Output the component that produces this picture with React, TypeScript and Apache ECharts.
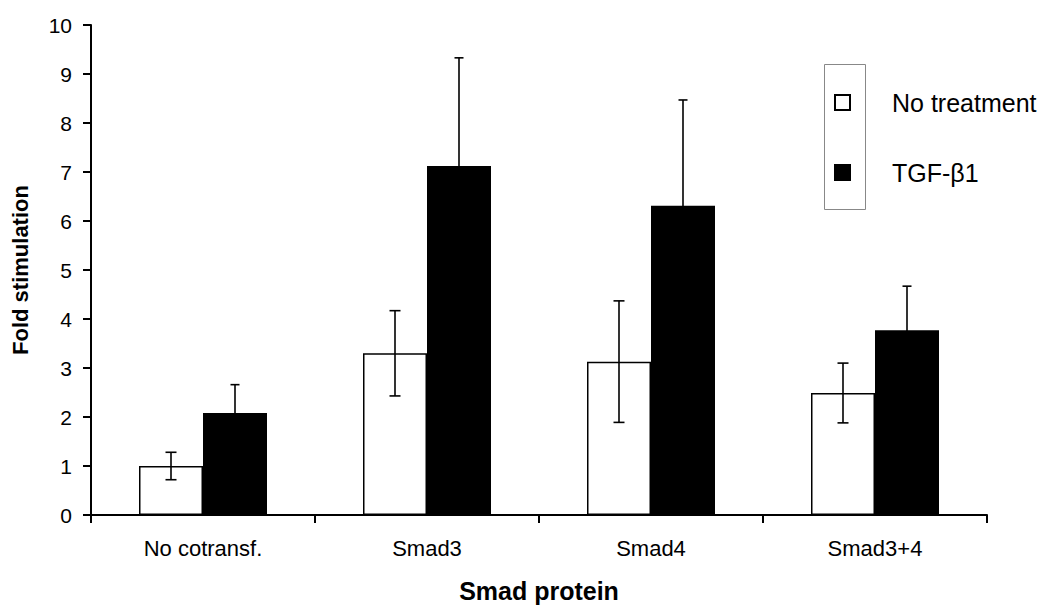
import React, { useEffect, useRef } from "react";
import * as echarts from "echarts";

const categories = ["No cotransf.", "Smad3", "Smad4", "Smad3+4"];
const noTreatment = [1.0, 3.3, 3.13, 2.49];
const noTreatmentErr = [0.28, 0.87, 1.24, 0.61];
const tgf = [2.08, 7.12, 6.31, 3.77];
const tgfErr = [0.58, 2.21, 2.16, 0.9];
const yTicks = [0, 1, 2, 3, 4, 5, 6, 7, 8, 9, 10];

const FONT = "Liberation Sans, Arial, sans-serif";
const BAR_W = 64;

function errorSeries(name: string, values: number[], errs: number[], offset: number, capW: number) {
  return {
    type: "custom",
    name,
    silent: true,
    z: 10,
    data: values.map((v, i) => [i, v - errs[i], v + errs[i]]),
    renderItem: (params: any, api: any) => {
      const i = api.value(0);
      const lo = api.coord([i, api.value(1)]);
      const hi = api.coord([i, api.value(2)]);
      const x = lo[0] + offset;
      const style = { stroke: "#000", lineWidth: 1.6 };
      return {
        type: "group",
        children: [
          { type: "line", shape: { x1: x, y1: lo[1], x2: x, y2: hi[1] }, style },
          { type: "line", shape: { x1: x - capW / 2, y1: hi[1], x2: x + capW / 2, y2: hi[1] }, style },
          { type: "line", shape: { x1: x - capW / 2, y1: lo[1], x2: x + capW / 2, y2: lo[1] }, style },
        ],
      };
    },
  };
}

export default function App() {
  const ref = useRef<HTMLDivElement>(null);
  useEffect(() => {
    if (!ref.current) return;
    const chart = echarts.init(ref.current, undefined, { renderer: "svg" });
    chart.setOption({
      animation: false,
      backgroundColor: "#fff",
      textStyle: { fontFamily: FONT, color: "#000" },
      grid: { left: 91, right: 71, top: 25, bottom: 88 },
      legend: {
        data: ["No treatment", "TGF-β1"],
        orient: "vertical",
        left: 834,
        top: 90,
        padding: 0,
        itemWidth: 15,
        itemHeight: 15,
        itemGap: 45,
        icon: "rect",
        selectedMode: false,
        textStyle: { fontSize: 25, color: "#000", fontFamily: FONT, padding: [0, 0, 0, 37], lineHeight: 25 },
      },
      graphic: [
        {
          type: "rect",
          left: 822,
          top: 62,
          shape: { width: 41, height: 145 },
          style: { fill: "none", stroke: "#888", lineWidth: 1 },
        },
      ],
      xAxis: {
        type: "category",
        data: categories,
        name: "Smad protein",
        nameLocation: "middle",
        nameGap: 63,
        nameTextStyle: { fontSize: 25, fontWeight: "bold", color: "#000", fontFamily: FONT },
        axisLine: { lineStyle: { color: "#000", width: 2 } },
        axisTick: { show: true, length: 8, lineStyle: { color: "#000", width: 2 } },
        axisLabel: { fontSize: 22, color: "#000", margin: 22, fontFamily: FONT },
      },
      yAxis: {
        type: "value",
        min: 0,
        max: 10,
        interval: 1,
        name: "Fold stimulation",
        nameLocation: "middle",
        nameGap: 60,
        nameTextStyle: { fontSize: 22, fontWeight: "bold", color: "#000", fontFamily: FONT },
        axisLine: { show: true, lineStyle: { color: "#000", width: 2 } },
        axisTick: { show: true, length: 8, lineStyle: { color: "#000", width: 2 } },
        axisLabel: {
          fontSize: 21,
          color: "#000",
          margin: 19,
          fontFamily: FONT,
          formatter: (v: number) => (yTicks.includes(v) ? String(v) : ""),
        },
        splitLine: { show: false },
      },
      series: [
        {
          type: "bar",
          name: "No treatment",
          data: noTreatment,
          barWidth: BAR_W,
          barGap: "0%",
          itemStyle: { color: "#fff", borderColor: "#000", borderWidth: 1.5 },
        },
        {
          type: "bar",
          name: "TGF-β1",
          data: tgf,
          barWidth: BAR_W,
          barGap: "0%",
          itemStyle: { color: "#000", borderColor: "#000", borderWidth: 1.5 },
        },
        errorSeries("errNo", noTreatment, noTreatmentErr, -BAR_W / 2, 11),
        errorSeries("errTgf", tgf, tgfErr, BAR_W / 2, 9),
      ],
    });
    return () => chart.dispose();
  }, []);
  return (
    <div
      ref={ref}
      style={{ position: "absolute", left: 0, top: 0, width: 1058, height: 608 }}
    />
  );
}
